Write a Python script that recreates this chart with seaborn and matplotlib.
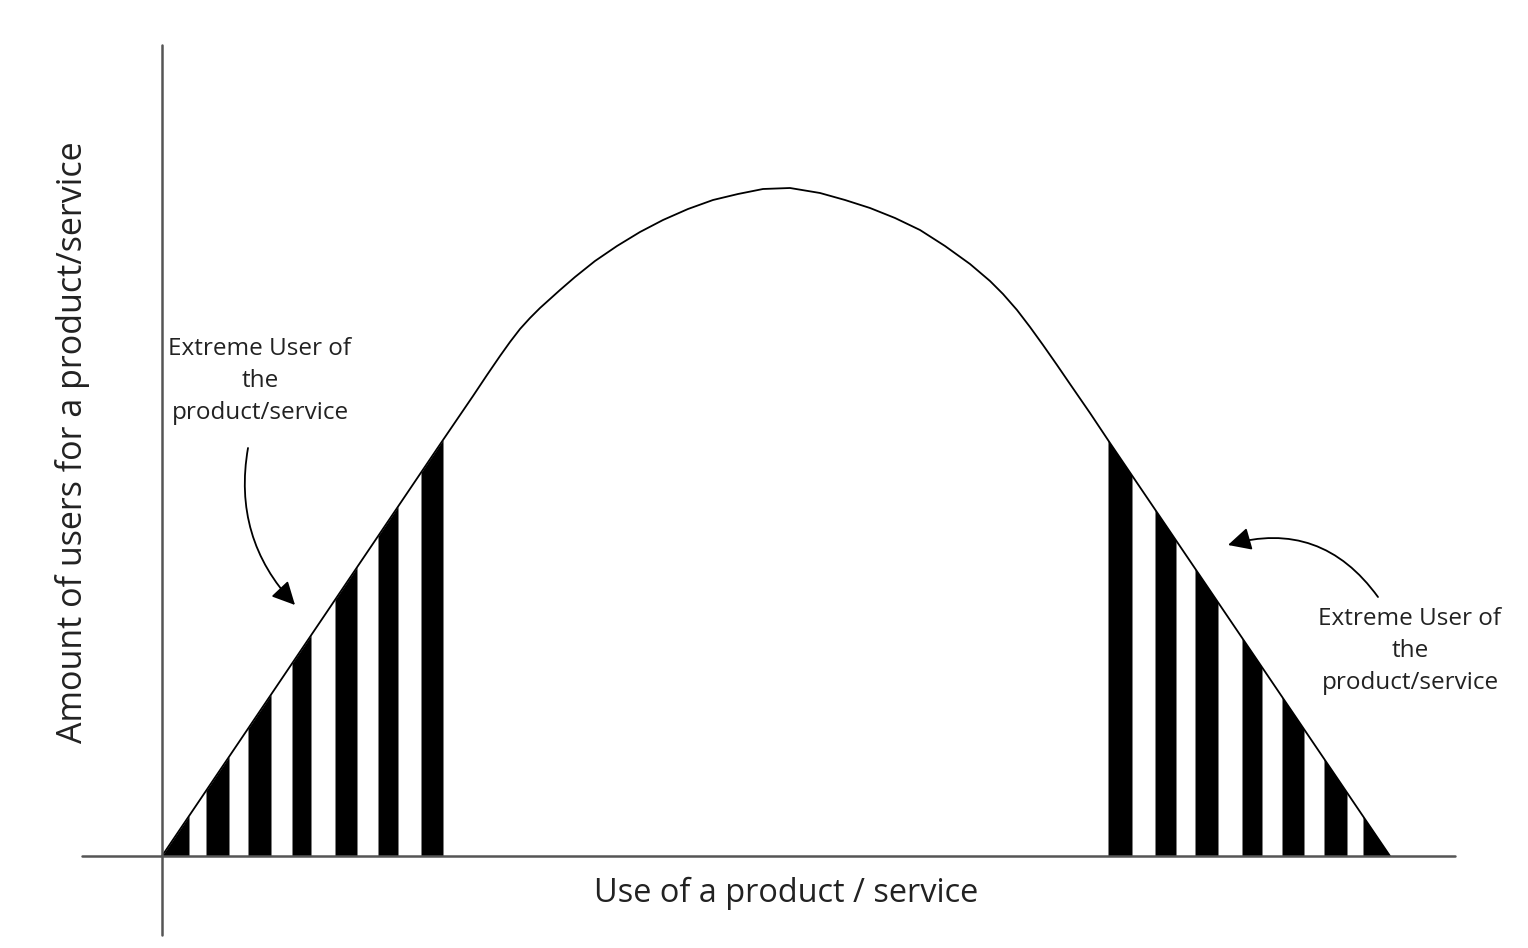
import numpy as np
import pandas as pd
import seaborn as sns
import matplotlib.pyplot as plt

# curve (x = use, y = number of users)
curve_x = [0, 281, 296, 311, 325, 338, 348, 358, 368, 378, 388, 398, 413, 433,
           455, 478, 501, 526, 551, 576, 601, 628, 658, 683, 708, 733, 758,
           783, 808, 828, 841, 855, 868, 881, 895, 908, 928, 948, 1228]
curve_y = [0, 416, 438, 460, 481, 500, 514, 527, 538, 548, 557, 566, 579, 595,
           610, 624, 636, 647, 656, 662, 667, 668, 663, 656, 648, 638, 626,
           610, 592, 575, 562, 546, 529, 511, 491, 472, 443, 413, 0]

# black stripes under the two tails
left_stripes = [(0, 27), (44, 67), (86, 109), (130, 149), (173, 195), (216, 236), (259, 281)]
right_stripes = [(946, 970), (993, 1014), (1033, 1056), (1080, 1100),
                 (1120, 1142), (1162, 1185), (1201, 1228)]

label_text = 'Extreme User of\nthe\nproduct/service'
x_label = 'Use of a product / service'
y_label = 'Amount of users for a product/service'

sns.set_theme(style='white')
plt.rcParams['font.family'] = ['Open Sans', 'DejaVu Sans']

fig = plt.figure(figsize=(15.28, 9.48), dpi=100)
ax = fig.add_axes([0, 0, 1, 1])
ax.set_xlim(-162, 1366)
ax.set_ylim(-92, 856)
ax.axis('off')

df = pd.DataFrame({'use': curve_x, 'users': curve_y})

# stripes
for a, b in left_stripes + right_stripes:
    xs = np.linspace(a, b, 30)
    ax.fill_between(xs, 0, np.interp(xs, df['use'], df['users']), color='black', lw=0)

sns.lineplot(data=df, x='use', y='users', sort=False, color='black', lw=1.3, ax=ax)

# axes lines
ax.plot([-80, 1293], [0, 0], color='#555555', lw=1.8, zorder=5)
ax.plot([0, 0], [-79, 811], color='#555555', lw=1.8, zorder=5)

ax.text(624, -37, x_label, ha='center', va='center', fontsize=23.4, color='#222222')
ax.text(-89, 414, y_label, ha='center', va='center', rotation=90, fontsize=24.5, color='#222222')

ax.text(98, 475, label_text, ha='center', va='center', fontsize=17.5,
        color='#222222', linespacing=1.42)
ax.text(1248, 205, label_text, ha='center', va='center', fontsize=17.5,
        color='#222222', linespacing=1.42)

ax.annotate('', xy=(133, 251), xytext=(86, 408),
            arrowprops=dict(arrowstyle='-|>', connectionstyle='arc3,rad=0.25',
                            color='black', lw=1.3, mutation_scale=35,
                            shrinkA=0, shrinkB=0))
ax.annotate('', xy=(1066, 311), xytext=(1216, 259),
            arrowprops=dict(arrowstyle='-|>', connectionstyle='arc3,rad=0.35',
                            color='black', lw=1.3, mutation_scale=35,
                            shrinkA=0, shrinkB=0))

plt.savefig('out.png', dpi=100)
